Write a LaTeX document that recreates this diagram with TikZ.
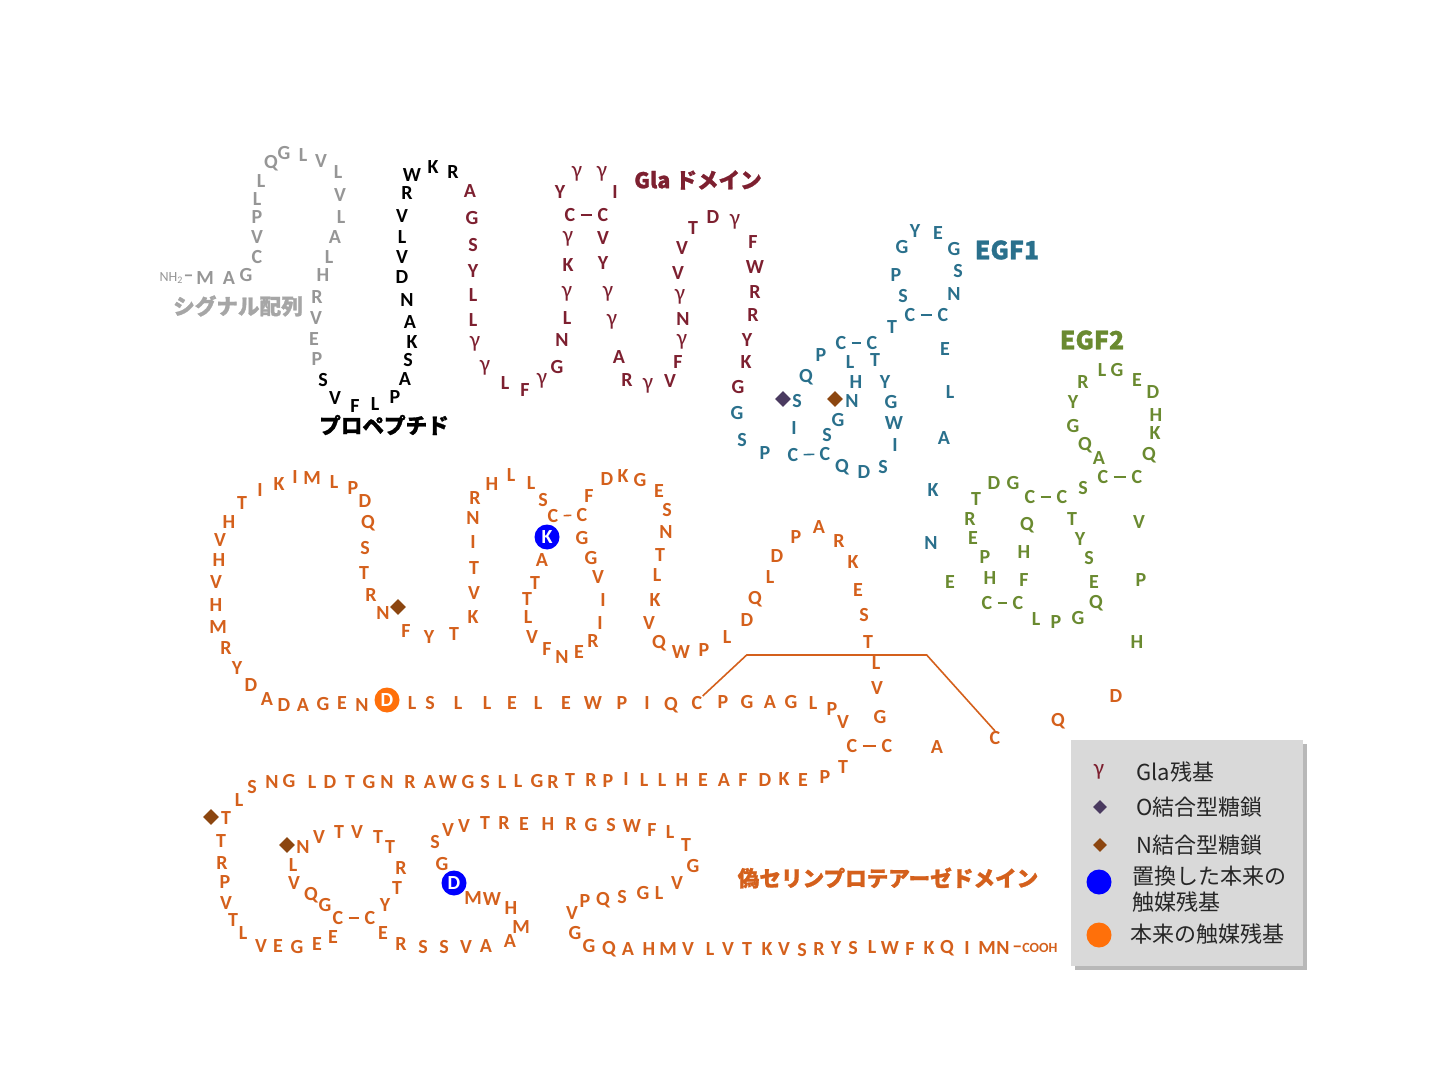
\documentclass[tikz,border=0pt]{standalone}
\usepackage{fontspec}
\newfontfamily\aafont{Carlito}
\newfontfamily\jpfont{Noto Sans CJK JP}[BoldFeatures={FakeBold=1.2}]
\newfontfamily\legfont{Noto Sans CJK JP}
\usetikzlibrary{shapes.geometric,positioning}
\definecolor{sigcol}{RGB}{150,150,150}
\definecolor{siglab}{RGB}{166,166,166}
\definecolor{glacol}{RGB}{125,32,48}
\definecolor{egfacol}{RGB}{42,112,140}
\definecolor{egfbcol}{RGB}{106,138,48}
\definecolor{pspcol}{RGB}{212,96,28}
\definecolor{catorange}{RGB}{255,112,10}
\definecolor{oglycol}{RGB}{74,58,96}
\definecolor{nglycol}{RGB}{140,70,16}
\newcommand\gamres{{\mdseries\fontsize{11.5}{12}\selectfont γ}}

\begin{document}
\begin{tikzpicture}[x=0.5pt, y=-0.5pt,
  aa/.style={font=\aafont\bfseries\fontsize{10}{12}\selectfont, inner sep=0pt},
  sig/.style={aa, text=sigcol},
  pro/.style={aa, text=black},
  gla/.style={aa, text=glacol},
  egfa/.style={aa, text=egfacol},
  egfb/.style={aa, text=egfbcol},
  psp/.style={aa, text=pspcol},
  dom/.style={font=\jpfont\bfseries\fontsize{10.8}{13}\selectfont, inner sep=0pt},
  bond/.style={line width=0.8pt, shorten <=2.5pt, shorten >=2.5pt},
  oglyc/.style={diamond, fill=oglycol, inner sep=0pt, minimum size=8pt},
  nglyc/.style={diamond, fill=nglycol, inner sep=0pt, minimum size=8pt},
  catK/.style={aa, circle, fill=blue, text=white, inner sep=0pt, minimum size=12.5pt},
  catD/.style={aa, circle, fill=catorange, text=white, inner sep=0pt, minimum size=12.5pt},
  legtxt/.style={font=\legfont\fontsize{11}{13}\selectfont, text=black!85, anchor=west, inner sep=0pt, align=left},
]
  \useasboundingbox (0,0) rectangle (1440,1080);

  % --- シグナル配列 ---
  \foreach \x/\y/\res [count=\i] in {205/278/M, 229/278/A, 246/275/G, 257/257/C, 257/237/V,
      257/217/P, 257/199/L, 261/181/L, 271/163/Q, 284/153/G, 303/155/L, 321/161/V,
      338/172/L, 340/195/V, 341/217/L, 335/237/A, 329/257/L, 323/275/H, 317/297/R,
      316/318/V, 314/339/E, 317/359/P}
    \node[sig] (sig\i) at (\x,\y) {\res};
  \node[sig, font=\aafont\fontsize{7}{8}\selectfont, left=1pt of sig1] (nterm) {NH\textsubscript{2}\bfseries\fontsize{10}{12}\selectfont–};
  \node[dom, text=siglab] (siglabel) at (238,306) {シグナル配列};

  % --- プロペプチド ---
  \foreach \x/\y/\res [count=\i] in {323/380/S, 335/398/V, 355/406/F, 375/404/L, 395/397/P,
      405/379/A, 408/360/S, 412/342/K, 410/322/A, 407/300/N, 402/277/D, 402/257/V,
      402/237/L, 402/216/V, 407/193/R, 412/175/W, 433/167/K, 453/172/R}
    \node[pro] (pro\i) at (\x,\y) {\res};
  \node[dom, text=black] (prolabel) at (384,425) {プロペプチド};

  % --- Gla ドメイン ---
  \foreach \x/\y/\res [count=\i] in {470/191/A, 472/218/G, 473/245/S, 473/271/Y, 473/295/L,
      473/320/L, 475/344/\gamres, 485/368/\gamres, 505/383/L, 525/390/F, 542/381/\gamres, 557/367/G,
      562/340/N, 567/318/L, 567/294/\gamres, 568/265/K, 568/239/\gamres, 560/192/Y, 577/174/\gamres,
      602/174/\gamres, 615/192/I, 603/238/V, 603/263/Y, 608/294/\gamres, 612/322/\gamres, 619/357/A,
      627/380/R, 648/386/\gamres, 670/381/V, 678/362/F, 682/342/\gamres, 683/319/N, 680/297/\gamres,
      678/273/V, 682/248/V, 693/228/T, 713/217/D, 735/222/\gamres, 753/242/F, 755/267/W,
      755/292/R, 753/315/R, 747/340/Y, 746/362/K, 738/387/G}
    \node[gla] (gla\i) at (\x,\y) {\res};
  \node[gla] (glaCa) at (570,215) {C};
  \node[gla] (glaCb) at (603,215) {C};
  \draw[bond, glacol] (glaCa) -- (glaCb);
  \node[dom, text=glacol] (glalabel) at (698,180) {Gla ドメイン};

  % --- EGF1 ---
  \foreach \x/\y/\res [count=\i] in {737/413/G, 742/440/S, 765/453/P, 794/428/I, 797/401/S,
      806/377/Q, 821/355/P, 850/362/L, 856/382/H, 852/401/N, 838/420/G, 827/435/S,
      842/467/Q, 864/472/D, 883/467/S, 895/445/I, 894/423/W, 891/402/G, 885/382/Y,
      875/360/T, 892/327/T, 903/296/S, 896/275/P, 902/247/G, 915/231/Y, 938/233/E,
      954/249/G, 958/271/S, 954/294/N, 945/349/E, 950/392/L, 944/438/A, 933/490/K,
      931/543/N}
    \node[egfa] (egfa\i) at (\x,\y) {\res};
  \node[egfa] (eaC1a) at (793,455) {C};
  \node[egfa] (eaC1b) at (825,454) {C};
  \node[egfa] (eaC2a) at (841,343) {C};
  \node[egfa] (eaC2b) at (872,343) {C};
  \node[egfa] (eaC3a) at (910,315) {C};
  \node[egfa] (eaC3b) at (943,315) {C};
  \draw[bond, egfacol] (eaC1a) -- (eaC1b);
  \draw[bond, egfacol] (eaC2a) -- (eaC2b);
  \draw[bond, egfacol] (eaC3a) -- (eaC3b);
  \node[oglyc] (og1) at (783,399) {};
  \node[nglyc] (ng1) at (835,399) {};
  \node[dom, text=egfacol, font=\jpfont\bfseries\fontsize{12.5}{14}\selectfont] (egfalabel) at (1007,250) {EGF1};

  % --- EGF2 ---
  \foreach \x/\y/\res [count=\i] in {950/582/E, 990/578/H, 985/557/P, 973/538/E, 970/519/R,
      976/499/T, 994/483/D, 1013/483/G, 1027/525/Q, 1024/552/H, 1024/580/F,
      1036/619/L, 1056/622/P, 1078/618/G, 1096/603/Q, 1094/582/E, 1089/558/S,
      1080/539/Y, 1072/519/T, 1083/488/S, 1099/458/A, 1085/445/Q, 1073/426/G,
      1073/402/Y, 1083/382/R, 1102/370/L, 1117/370/G, 1137/380/E, 1153/392/D,
      1156/415/H, 1155/433/K, 1149/455/Q, 1139/522/V, 1141/580/P, 1137/642/H}
    \node[egfb] (egfb\i) at (\x,\y) {\res};
  \node[egfb] (ebC1a) at (987,603) {C};
  \node[egfb] (ebC1b) at (1018,603) {C};
  \node[egfb] (ebC2a) at (1030,497) {C};
  \node[egfb] (ebC2b) at (1062,497) {C};
  \node[egfb] (ebC3a) at (1103,477) {C};
  \node[egfb] (ebC3b) at (1137,477) {C};
  \draw[bond, egfbcol] (ebC1a) -- (ebC1b);
  \draw[bond, egfbcol] (ebC2a) -- (ebC2b);
  \draw[bond, egfbcol] (ebC3a) -- (ebC3b);
  \node[dom, text=egfbcol, font=\jpfont\bfseries\fontsize{12.5}{14}\selectfont] (egfblabel) at (1092,340) {EGF2};

  % --- 偽セリンプロテアーゼドメイン：上段 ---
  \foreach \x/\y/\res [count=\i] in {1116/696/D, 1058/721/Q, 937/747/A, 880/717/G, 877/688/V,
      876/663/L, 868/642/T, 864/615/S, 858/590/E, 853/562/K, 839/541/R, 819/527/A,
      796/537/P, 777/556/D, 770/577/L, 755/599/Q, 747/620/D, 727/637/L, 704/650/P,
      681/652/W, 659/643/Q, 649/623/V, 655/600/K, 657/575/L, 660/555/T, 666/532/N,
      667/510/S, 659/491/E, 640/480/G, 623/476/K, 607/479/D, 589/496/F, 582/538/G,
      591/558/G, 598/577/V, 603/600/I, 600/623/I, 593/641/R, 579/652/E, 562/657/N,
      547/649/F, 532/637/V, 528/617/L, 527/599/T, 535/583/T, 542/560/A, 543/500/S,
      531/483/L, 511/475/L, 492/484/H, 475/498/R, 473/518/N, 473/542/I, 474/568/T,
      474/593/V, 473/617/K, 454/634/T, 429/637/Y, 406/631/F, 383/613/N, 371/595/R,
      364/573/T, 365/548/S, 368/523/Q, 365/501/D, 353/488/P, 334/482/L, 312/478/M,
      295/477/I, 279/484/K, 260/490/I, 242/503/T, 229/522/H, 220/540/V, 219/560/H,
      216/582/V, 216/605/H, 218/627/M, 226/648/R, 237/668/Y, 251/685/D, 267/699/A,
      284/705/D, 303/705/A, 323/704/G, 342/703/E, 362/705/N, 412/703/L, 430/703/S,
      458/703/L, 487/703/L, 512/703/E, 538/703/L, 566/703/E, 593/703/W, 622/703/P,
      647/703/I, 671/705/Q, 723/702/P, 747/702/G, 770/702/A, 791/702/G, 813/703/L,
      832/709/P, 843/722/V}
    \node[psp] (psa\i) at (\x,\y) {\res};

  % --- 偽セリンプロテアーゼドメイン：下段 ---
  \foreach \x/\y/\res [count=\i] in {843/767/T, 825/777/P, 803/780/E, 784/779/K, 765/780/D,
      743/780/F, 724/780/A, 703/780/E, 682/780/H, 662/780/L, 644/780/L, 626/779/I,
      608/781/P, 591/780/R, 570/780/T, 553/782/R, 537/781/G, 518/781/L, 502/782/L,
      485/782/S, 468/782/G, 448/782/W, 430/782/A, 410/782/R, 387/782/N, 369/782/G,
      350/782/T, 330/782/D, 312/782/L, 289/781/G, 272/782/N, 252/787/S, 239/800/L,
      226/818/T, 221/841/T, 222/863/R, 225/882/P, 226/903/V, 233/920/T, 243/933/L,
      261/946/V, 278/946/E, 297/947/G, 317/944/E, 333/937/E, 325/905/G, 311/895/Q,
      294/883/V, 293/865/L, 303/847/N, 319/837/V, 339/832/T, 357/832/V, 378/837/T,
      390/847/T, 401/868/R, 397/888/T, 385/905/Y, 383/933/E, 401/944/R, 423/947/S,
      444/947/S, 466/947/V, 486/946/A, 510/941/A, 521/927/M, 511/908/H, 492/899/W,
      473/898/M, 442/864/G, 435/842/S, 448/830/V, 464/826/V, 485/823/T, 504/823/R,
      524/824/E, 548/824/H, 571/824/R, 591/825/G, 611/825/S, 632/826/W, 652/830/F,
      670/832/L, 686/845/T, 693/866/G, 677/883/V, 659/893/L, 643/893/G, 622/897/S,
      603/900/Q, 585/901/P, 572/913/V, 575/933/G, 589/946/G, 609/949/Q, 628/949/A,
      649/949/H, 668/949/M, 688/949/V, 710/949/L, 728/949/V, 747/949/T, 767/949/K,
      784/949/V, 802/950/S, 819/949/R, 836/948/Y, 853/948/S, 872/947/L, 890/948/W,
      910/949/F, 929/948/K, 947/948/Q, 967/948/I, 987/948/M}
    \node[psp] (psb\i) at (\x,\y) {\res};
  \node[psp] (ctN) at (1003,948) {N};
  \node[psp, font=\aafont\bfseries\fontsize{7}{8}\selectfont, right=1pt of ctN] (cterm) {{\fontsize{10}{12}\selectfont–}COOH};

  % --- システイン対 ---
  \node[psp] (cysA) at (697,703) {C};
  \node[psp] (cysB) at (995,738) {C};
  \draw[pspcol, line width=0.8pt] (cysA.north east) -- ++(44,-41) -- ++(180,0) -- (cysB.north);
  \node[psp] (psC1a) at (553,516) {C};
  \node[psp] (psC1b) at (582,515) {C};
  \node[psp] (psC2a) at (852,746) {C};
  \node[psp] (psC2b) at (887,746) {C};
  \node[psp] (psC3a) at (338,918) {C};
  \node[psp] (psC3b) at (370,918) {C};
  \draw[bond, pspcol] (psC1a) -- (psC1b);
  \draw[bond, pspcol] (psC2a) -- (psC2b);
  \draw[bond, pspcol] (psC3a) -- (psC3b);

  % --- 触媒残基・糖鎖 ---
  \node[catK] (catK1) at (547,537) {K};
  \node[catK] (catD2) at (454,883) {D};
  \node[catD] (catD1) at (387,700) {D};
  \node[nglyc] (ng2) at (398,607) {};
  \node[nglyc] (ng3) at (211,817) {};
  \node[nglyc] (ng4) at (287,845) {};
  \node[dom, text=pspcol] (psplabel) at (888,878) {偽セリンプロテアーゼドメイン};

  % --- 凡例 ---
  \fill[black!28] (1075,744) rectangle (1307,970);
  \fill[black!15] (1071,740) rectangle (1303,966);
  \node[gla] (leg1) at (1099,772) {\gamres};
  \node[legtxt] (legt1) at (1136,772) {Gla残基};
  \node[oglyc, minimum size=7pt] (leg2) at (1100,807) {};
  \node[legtxt] (legt2) at (1136,807) {O結合型糖鎖};
  \node[nglyc, minimum size=7pt] (leg3) at (1100,845) {};
  \node[legtxt] (legt3) at (1136,845) {N結合型糖鎖};
  \node[catK] (leg4) at (1099,882) {};
  \node[legtxt] (legt4) at (1132,889) {置換した本来の\\触媒残基};
  \node[catD] (leg5) at (1099,935) {};
  \node[legtxt] (legt5) at (1130,934) {本来の触媒残基};
\end{tikzpicture}
\end{document}
